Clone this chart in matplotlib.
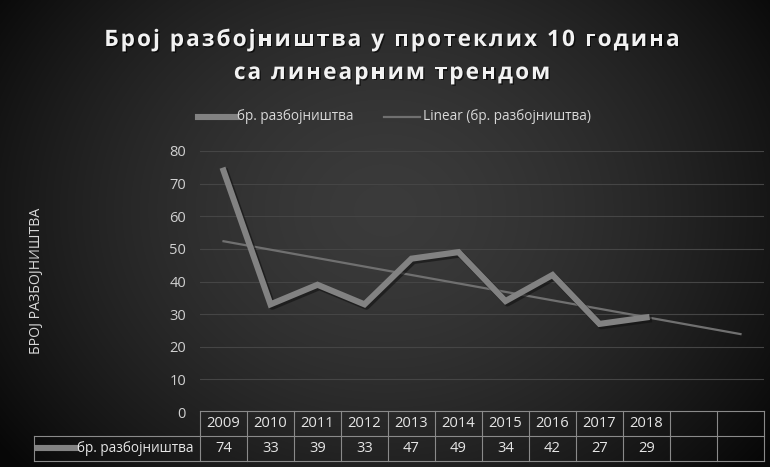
import numpy as np
import matplotlib
matplotlib.use("Agg")
import matplotlib.pyplot as plt
from matplotlib.lines import Line2D
import matplotlib.patheffects as pe

years = ["2009", "2010", "2011", "2012", "2013", "2014", "2015", "2016", "2017", "2018"]
values = [74, 33, 39, 33, 47, 49, 34, 42, 27, 29]
n_extra = 2  # forecast periods of the trendline
series_name = "бр. разбојништва"
trend_name = "Linear (бр. разбојништва)"
title_lines = ["Број разбојништва у протеклих 10 година", "са линеарним трендом"]
ylabel = "БРОЈ РАЗБОЈНИШТВА"
yticks = [0, 10, 20, 30, 40, 50, 60, 70, 80]

plt.rcParams['font.family'] = ['Open Sans', 'DejaVu Sans']

W, H = 770, 467
fig = plt.figure(figsize=(W / 100, H / 100), dpi=100)

# radial gradient background
bg = fig.add_axes([0, 0, 1, 1], zorder=-10)
yy, xx = np.mgrid[0:H, 0:W]
cx, cy = W * 0.5, H * 0.45
r = np.sqrt(((xx - cx) / (W * 0.62)) ** 2 + ((yy - cy) / (H * 0.85)) ** 2)
r = np.clip(r, 0, 1)
inner, outer = 0.23, 0.03
img = inner + (outer - inner) * r ** 1.6
bg.imshow(np.dstack([img, img, img]), aspect='auto', extent=[0, W, H, 0])
bg.set_xlim(0, W)
bg.set_ylim(H, 0)
bg.axis('off')

def fx(px): return px / W
def fy(py): return 1 - py / H

# plot area
L, R, T, B = 200, 764, 151, 412
ax = fig.add_axes([L / W, 1 - B / H, (R - L) / W, (B - T) / H])
ax.set_facecolor('none')
n = len(years) + n_extra
x = np.arange(len(years))
ax.set_xlim(-0.5, n - 0.5)
ax.set_ylim(0, 80)
ax.set_yticks(yticks)
ax.set_xticks([])
for s in ax.spines.values():
    s.set_visible(False)
ax.grid(axis='y', color='#454545', linewidth=0.8)
ax.tick_params(axis='y', length=0, colors='#d0d0d0', labelsize=10.5, pad=10)

# trendline (least-squares fit, extended by forecast periods)
coef = np.polyfit(x + 1, values, 1)
xt = np.arange(n)
ax.plot(xt, np.polyval(coef, xt + 1), color='#707070', linewidth=1.6, zorder=3)

# series with shadow
ax.plot(x + 0.04, np.array(values) - 0.6, color='#111111', linewidth=5, alpha=0.6, zorder=3.5)
ax.plot(x, values, color='#828282', linewidth=4.4, zorder=4, solid_joinstyle='miter')

# title with letter tracking
fig.canvas.draw()
renderer = fig.canvas.get_renderer()
def tracked(text, xc, ybase, size, track, **kw):
    ws = []
    for ch in text:
        t = fig.text(0, 0, ch if ch != ' ' else '\u00a0', fontsize=size, **kw)
        bb = t.get_window_extent(renderer)
        t.remove()
        ws.append(bb.width)
    total = sum(ws) + track * (len(text) - 1)
    xs = xc - total / 2
    for ch, w in zip(text, ws):
        if ch != ' ':
            fig.text(fx(xs), fy(ybase), ch, fontsize=size, ha='left', va='baseline', **kw)
        xs += w + track

tkw = dict(color='#f2f2f2', fontweight='bold',
           path_effects=[pe.withSimplePatchShadow(offset=(1, -1), shadow_rgbFace='black', alpha=0.6)])
tracked(title_lines[0], 392, 46, 16.3, 2.0, **tkw)
tracked(title_lines[1], 392, 79, 16.3, 2.0, **tkw)

# legend
ly = 117
fig.add_artist(Line2D([fx(198), fx(236)], [fy(ly), fy(ly)], color='#828282', linewidth=4.4))
fig.text(fx(237), fy(ly), series_name, color='#d9d9d9', fontsize=9.8, va='center', ha='left')
fig.add_artist(Line2D([fx(384), fx(420)], [fy(ly), fy(ly)], color='#707070', linewidth=1.6))
fig.text(fx(423), fy(ly), trend_name, color='#d9d9d9', fontsize=9.8, va='center', ha='left')

# y label
fig.text(fx(37), fy(281), ylabel, rotation=90, color='#d9d9d9', fontsize=10.2,
         va='center', ha='center')

# data table
lc = '#8a8a8a'
cw = (R - L) / n
r1t, r1b, r2b = 411, 436, 461
TL = 34
fig.add_artist(Line2D([fx(L), fx(R)], [fy(r1t), fy(r1t)], color=lc, linewidth=0.8))
fig.add_artist(Line2D([fx(TL), fx(R)], [fy(r1b), fy(r1b)], color=lc, linewidth=0.8))
fig.add_artist(Line2D([fx(TL), fx(R)], [fy(r2b), fy(r2b)], color=lc, linewidth=0.8))
fig.add_artist(Line2D([fx(TL), fx(TL)], [fy(r1b), fy(r2b)], color=lc, linewidth=0.8))
for i in range(n + 1):
    xp = L + i * cw
    fig.add_artist(Line2D([fx(xp), fx(xp)], [fy(r1t), fy(r2b)], color=lc, linewidth=0.8))
tsz = 10.6
for i, yr in enumerate(years):
    xc = L + (i + 0.5) * cw
    fig.text(fx(xc), fy((r1t + r1b) / 2), yr, color='#e6e6e6', fontsize=tsz,
             ha='center', va='center')
    fig.text(fx(xc), fy((r1b + r2b) / 2), str(values[i]), color='#e6e6e6', fontsize=tsz,
             ha='center', va='center')
fig.add_artist(Line2D([fx(38), fx(76)], [fy(448), fy(448)], color='#828282', linewidth=4.4))
fig.text(fx(77), fy(448), series_name, color='#e6e6e6', fontsize=9.8,
         ha='left', va='center')

fig.savefig('out.png', dpi=100, facecolor='black')
